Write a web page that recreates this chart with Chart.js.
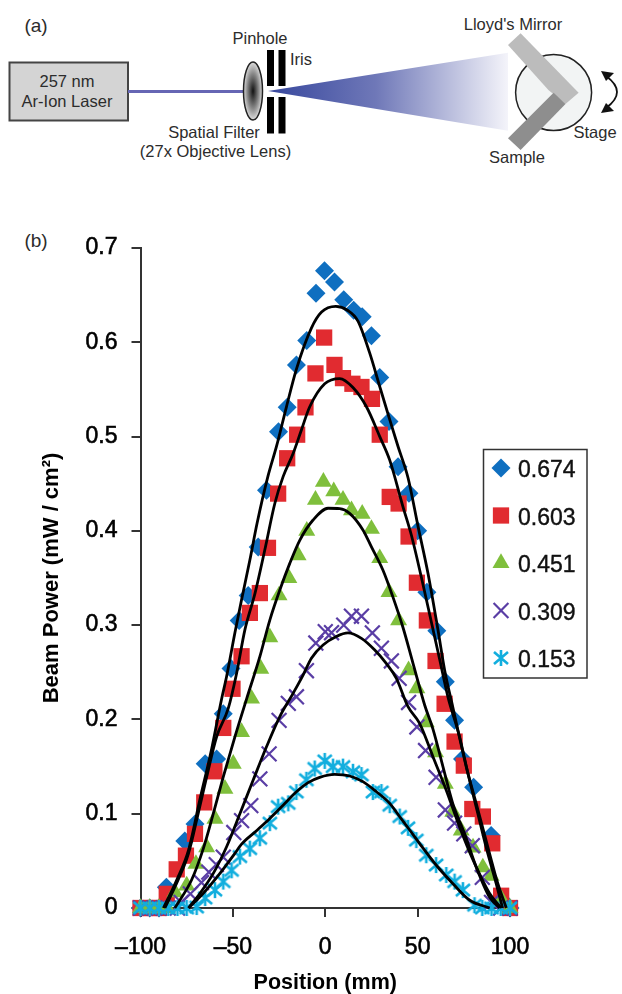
<!DOCTYPE html>
<html>
<head>
<meta charset="utf-8">
<style>
  html, body { margin: 0; background: #fff; }
  #page { position: relative; width: 622px; height: 994px; overflow: hidden; }
  #page svg, #page canvas { position: absolute; left: 0; top: 0; }
  svg text { font-family: "Liberation Sans", Arial, sans-serif; fill: #2c2c2c; text-anchor: middle; }
</style>
<script src="https://cdn.jsdelivr.net/npm/chart.js@4"></script>
</head>
<body>
<div id="page">
  <svg width="622" height="260">
    <defs>
      <radialGradient id="lensFill">
        <stop offset="0" stop-color="#111"/>
        <stop offset="0.6" stop-color="#888"/>
        <stop offset="1" stop-color="#ddd"/>
      </radialGradient>
      <linearGradient id="coneFill">
        <stop offset="0" stop-color="#37479d"/>
        <stop offset="0.45" stop-color="#6f78b8"/>
        <stop offset="1" stop-color="#f4f4fa"/>
      </linearGradient>
    </defs>
    <text x="36" y="32" font-size="19">(a)</text>
    <text x="36" y="247" font-size="19">(b)</text>

    <rect x="9.5" y="62.5" width="118.5" height="58" fill="#d4d4d4" stroke="#444" stroke-width="2"/>
    <text x="67" y="87" font-size="16.5">257 nm</text>
    <text x="67" y="107" font-size="16.5">Ar-Ion Laser</text>
    <line x1="128" y1="91.5" x2="245" y2="91.5" stroke="#6666b4" stroke-width="3"/>
    <ellipse cx="253" cy="91" rx="9.5" ry="29" fill="url(#lensFill)" stroke="#222" stroke-width="1.5"/>
    <rect x="267" y="50" width="7" height="36" fill="#000"/>
    <rect x="278.5" y="50" width="7" height="36" fill="#000"/>
    <rect x="267" y="97" width="7" height="36.5" fill="#000"/>
    <rect x="278.5" y="97" width="7" height="36.5" fill="#000"/>
    <polygon points="268,91 508,52.7 508,130.7" fill="url(#coneFill)"/>
    <circle cx="553.6" cy="92.5" r="38" fill="#f2f4f4" stroke="#222" stroke-width="1.5"/>
    <polygon points="508,45 520.6,33.3 578.6,92.7 565.5,104 548.4,90" fill="#bcbcbc"/>
    <polygon points="508,138.3 553.6,92.7 565.5,104 520.6,150" fill="#8e8e8e"/>
    <path d="M606 76 Q 628 92 606 108" fill="none" stroke="#111" stroke-width="1.8"/>
    <polygon points="601,71 614,73 606,81" fill="#111"/>
    <polygon points="601,113 614,111 606,103" fill="#111"/>
    <text x="260" y="44" font-size="16.5">Pinhole</text>
    <text x="301" y="65" font-size="16.5">Iris</text>
    <text x="214" y="138" font-size="16.5">Spatial Filter</text>
    <text x="215.5" y="157" font-size="16.5">(27x Objective Lens)</text>
    <text x="513" y="30" font-size="16.5">Lloyd's Mirror</text>
    <text x="595" y="138" font-size="16.5">Stage</text>
    <text x="517" y="163" font-size="16.5">Sample</text>
  </svg>
  <canvas id="beamChart" width="622" height="994"></canvas>
</div>

<script>
const seriesLabels = ["0.674", "0.603", "0.451", "0.309", "0.153"];
const xTicks = [-100, -50, 0, 50, 100];
const yTicks = [0, 0.1, 0.2, 0.3, 0.4, 0.5, 0.6, 0.7];

const blueX = [-100,-95,-90,-86,-76,-70.5,-65,-58.8,-55.2,-51,-46.6,-41.7,-36.3,-31.8,-25.3,-20.6,-15.6,-10,-5,-0.4,5,10,15.4,20,25,29.5,34.5,39.4,45.3,50,55,60.4,65,70,74.3,80.3,89.8,95,100];
const blueY = [0,0,0,0.022,0.071,0.089,0.153,0.158,0.206,0.254,0.305,0.3315,0.383,0.443,0.505,0.531,0.576,0.602,0.652,0.676,0.664,0.645,0.634,0.627,0.607,0.5626,0.516,0.468,0.44,0.4,0.335,0.294,0.24,0.199,0.158,0.128,0.077,0.01,0];
const redX = [-100,-95,-90,-85.8,-80.4,-75.4,-70.5,-65.5,-60,-55.2,-50.2,-45.3,-40.8,-35.4,-31,-25.5,-20.6,-15.2,-10.7,-5.3,-0.6,5,9.6,14.7,19.6,25.3,29.5,34.9,39.7,45.1,49.6,55,59.7,64.6,70,75,79.6,85.3,90.4,95.2,100];
const redY = [0,0,0,0.015,0.041,0.0555,0.0786,0.112,0.145,0.191,0.2325,0.267,0.313,0.334,0.382,0.4395,0.477,0.502,0.531,0.567,0.605,0.576,0.562,0.556,0.5526,0.54,0.502,0.436,0.429,0.394,0.345,0.305,0.262,0.2166,0.1765,0.151,0.105,0.097,0.0686,0.013,0];
const greenX = [-100,-95,-90,-85.5,-81.4,-75,-70,-64.2,-59.7,-54.3,-49.8,-45.3,-39.9,-34.9,-30,-25,-19.7,-14.7,-10,-5.3,-1,4.6,9.6,14.2,20,25,29.5,34.5,39.7,45.1,49.6,54.7,59.7,65,69,73.6,80,85.3,89.8,95.2,100];
const greenY = [0,0,0,0,0.0166,0.0237,0.0467,0.0644,0.0945,0.1263,0.153,0.1865,0.222,0.2537,0.287,0.3315,0.35,0.374,0.4,0.433,0.452,0.442,0.433,0.4217,0.418,0.402,0.371,0.335,0.305,0.252,0.233,0.197,0.165,0.1316,0.102,0.082,0.064,0.043,0.034,0.01,0];
const purpleX = [-100,-95,-90,-85,-80,-78,-73,-67,-63,-59,-55.2,-49.5,-45.3,-40.3,-35.4,-30.4,-25,-20,-15.6,-10.2,-5.1,0,3.4,10,14.2,19.6,25.5,30.4,35.8,40,45.1,49.6,54.3,60,65,70,75,79.6,85,90,95,100];
const purpleY = [0,0,0,0,0,0.006,0.015,0.027,0.038,0.046,0.054,0.08,0.0927,0.1086,0.137,0.1635,0.199,0.217,0.224,0.2517,0.281,0.293,0.292,0.3,0.3095,0.3095,0.2917,0.2755,0.262,0.2436,0.218,0.192,0.167,0.1386,0.104,0.09,0.0786,0.066,0.0325,0.006,0,0];
const cyanX = [-100,-95,-90,-85,-80,-75,-69.6,-65,-59.7,-55.2,-50.7,-46.2,-40.8,-35.4,-30,-25.5,-20,-15.6,-10.2,-5.7,-0.3,4.2,9.6,15,19.6,25.8,30.4,34.9,40.3,44.8,49.3,54.7,60,65.5,70,74.5,80.8,85,90,95,100];
const cyanY = [0,0,0,0,0,0,0.001,0.0106,0.019,0.028,0.04,0.0545,0.063,0.074,0.09,0.1075,0.111,0.123,0.136,0.148,0.156,0.15,0.15,0.1445,0.141,0.123,0.123,0.109,0.097,0.085,0.072,0.056,0.0456,0.035,0.028,0.019,0.003,0,0,0,0];

// fitted curves
const fitAX = [-87.6,-80.4,-74,-67.8,-61.5,-56.1,-53.4,-48.9,-45.3,-40.8,-36.9,-31,-26.4,-21,-15.6,-7.5,-2,5.7,12,17.7,24,29.5,34.9,39.4,44.8,50.2,55.6,61,64.6,69,76.3,81.7,88.9,93.4,98];
const fitAY = [0,0.0297,0.0615,0.1155,0.1686,0.2216,0.2455,0.292,0.327,0.369,0.408,0.458,0.4895,0.5316,0.5716,0.615,0.632,0.638,0.634,0.6225,0.589,0.553,0.518,0.4895,0.4563,0.405,0.355,0.295,0.2525,0.2135,0.15,0.111,0.058,0.026,0];
const fitBX = [-86.8,-79.6,-74,-68.8,-64.2,-58.8,-52.5,-48,-43.5,-38,-32.7,-27.3,-22.8,-17.4,-12.9,-8.4,-0.3,7.8,15,22.3,29.5,34.9,42,46.6,52,57.4,62,66.4,72.7,77.2,82.6,87,92.5,96];
const fitBY = [0,0.03,0.058,0.1,0.139,0.1816,0.2117,0.2488,0.295,0.334,0.38,0.429,0.4575,0.482,0.507,0.5316,0.556,0.5615,0.552,0.5316,0.5,0.475,0.426,0.3956,0.351,0.3036,0.263,0.224,0.1816,0.143,0.1,0.065,0.026,0];
const fitCX = [-81.4,-72.3,-66,-60.6,-55.2,-48.9,-42.6,-35.4,-30,-24.6,-19.2,-13.8,-6.6,1.5,7.8,13.2,20.4,25,31.2,36.6,42,47.5,53.8,58.3,63.7,69,75.4,81.7,88.9,94.3];
const fitCY = [0,0.03,0.063,0.1,0.139,0.1816,0.2216,0.2666,0.3054,0.3372,0.3655,0.39,0.4115,0.424,0.4236,0.4186,0.401,0.383,0.3585,0.33,0.298,0.2595,0.2153,0.1898,0.15,0.111,0.079,0.0435,0.0115,0];
const fitDX = [-74,-67.8,-60.6,-53.4,-46.2,-39,-31.8,-24.6,-17.4,-12,-7.5,-1.2,6,12.3,19.6,26.8,33,38.5,44.8,51,58.3,65.5,72.7,80,88.9,95.2];
const fitDY = [0,0.0156,0.0367,0.065,0.1,0.1357,0.171,0.203,0.2277,0.247,0.265,0.279,0.288,0.2917,0.286,0.2736,0.2595,0.2436,0.2135,0.196,0.1605,0.125,0.086,0.051,0.0156,0];
const fitEX = [-74,-66,-57,-48.9,-45.3,-37.2,-30,-22.8,-15.6,-9.3,-3,5.1,13.2,20.4,27.7,34.9,40.3,45.7,51,60,69,78,89];
const fitEY = [0,0.0156,0.0367,0.058,0.0677,0.082,0.095,0.109,0.1233,0.133,0.1386,0.1417,0.14,0.134,0.1233,0.111,0.0968,0.0827,0.0686,0.0456,0.026,0.0085,0];

const COLORS = { blue: "#0f6fc0", red: "#e12b30", green: "#7fbf3c", purple: "#5a3ea5", cyan: "#12aede" };

const zip = (xs, ys) => xs.map((x, i) => ({ x, y: ys[i] }));

// six-armed star like the spreadsheet marker, chart.js "star" has eight
function starMarker(color) {
  const c = document.createElement("canvas");
  c.width = c.height = 18;
  const ctx = c.getContext("2d");
  ctx.strokeStyle = color;
  ctx.lineWidth = 2.6;
  ctx.beginPath();
  ctx.moveTo(9, 1); ctx.lineTo(9, 17);
  ctx.moveTo(2, 3); ctx.lineTo(16, 15);
  ctx.moveTo(16, 3); ctx.lineTo(2, 15);
  ctx.stroke();
  return c;
}

function pointSet(i, xs, ys, color, style, radius, order) {
  return {
    label: seriesLabels[i],
    data: zip(xs, ys),
    showLine: false,
    pointStyle: style,
    pointRadius: radius,
    pointBackgroundColor: color,
    pointBorderColor: color,
    pointBorderWidth: style === "crossRot" ? 2.2 : 0,
    clip: false,
    order,
  };
}

function fitSet(xs, ys) {
  return {
    label: "fit",
    data: zip(xs, ys),
    showLine: true,
    borderColor: "#000",
    borderWidth: 2.8,
    cubicInterpolationMode: "monotone",
    pointRadius: 0,
    clip: false,
    order: 0,
  };
}

// box legend inside the plot, the built-in one cannot sit there
const boxLegend = {
  id: "boxLegend",
  afterDraw(chart) {
    const ctx = chart.ctx;
    ctx.save();
    ctx.strokeStyle = "#333";
    ctx.lineWidth = 1.5;
    ctx.strokeRect(483.5, 449.5, 103.5, 228.5);
    ctx.font = '23px "Liberation Sans", Arial, sans-serif';
    ctx.textBaseline = "middle";
    seriesLabels.forEach((label, i) => {
      const y = 468 + i * 47.5;
      const ds = chart.data.datasets[i];
      ctx.fillStyle = ds.pointBackgroundColor;
      ctx.strokeStyle = ds.pointBorderColor;
      ctx.lineWidth = ds.pointBorderWidth;
      Chart.helpers.drawPoint(ctx, { pointStyle: ds.pointStyle, radius: ds.pointRadius, borderWidth: ds.pointBorderWidth, rotation: 0 }, 501, y);
      ctx.fillStyle = "#111";
      ctx.strokeStyle = "#111";
      ctx.lineWidth = 0.4;
      ctx.fillText(label, 518, y + 3);
      ctx.strokeText(label, 518, y + 3);
    });
    ctx.restore();
  },
};

new Chart(document.getElementById("beamChart"), {
  type: "scatter",
  data: {
    datasets: [
      pointSet(0, blueX, blueY, COLORS.blue, "rectRot", 9.5, 5),
      pointSet(1, redX, redY, COLORS.red, "rect", 11.5, 4),
      pointSet(2, greenX, greenY, COLORS.green, "triangle", 9.8, 3),
      pointSet(3, purpleX, purpleY, COLORS.purple, "crossRot", 10.5, 2),
      pointSet(4, cyanX, cyanY, COLORS.cyan, starMarker(COLORS.cyan), 9, 1),
      fitSet(fitAX, fitAY),
      fitSet(fitBX, fitBY),
      fitSet(fitCX, fitCY),
      fitSet(fitDX, fitDY),
      fitSet(fitEX, fitEY),
    ],
  },
  options: {
    responsive: false,
    animation: false,
    layout: { padding: { top: 248, right: 112, left: 0, bottom: 0 } },
    plugins: { legend: { display: false }, tooltip: { enabled: false } },
    scales: {
      x: {
        type: "linear",
        min: -100,
        max: 100,
        afterBuildTicks: axis => { axis.ticks = xTicks.map(value => ({ value })); },
        afterFit: axis => { axis.height = 86; },
        grid: { drawOnChartArea: false, color: "#333", tickLength: 9, lineWidth: 2 },
        border: { color: "#333", width: 2 },
        ticks: {
          color: "#000",
          padding: 17,
          maxRotation: 0,
          textStrokeColor: "#000",
          textStrokeWidth: 0.6,
          font: { family: "Liberation Sans", size: 23 },
          callback: v => String(v).replace("-", "\u2013"),
        },
        title: {
          display: true,
          text: "Position (mm)",
          color: "#000",
          font: { family: "Liberation Sans", size: 21.5, weight: "bold", lineHeight: 1 },
          padding: { top: 0, bottom: 0 },
        },
      },
      y: {
        type: "linear",
        min: 0,
        max: 0.7,
        afterBuildTicks: axis => { axis.ticks = yTicks.map(value => ({ value })); },
        afterFit: axis => { axis.width = 140.5; },
        grid: { drawOnChartArea: false, color: "#333", tickLength: 9, lineWidth: 2 },
        border: { color: "#333", width: 2 },
        ticks: {
          color: "#000",
          padding: 14,
          textStrokeColor: "#000",
          textStrokeWidth: 0.6,
          font: { family: "Liberation Sans", size: 23 },
          callback: v => String(v),
        },
        title: {
          display: true,
          text: "Beam Power (mW / cm\u00b2)",
          color: "#000",
          font: { family: "Liberation Sans", size: 22, weight: "bold", lineHeight: 1 },
          padding: { top: 41, bottom: 0 },
        },
      },
    },
  },
  plugins: [boxLegend],
});
</script>
</body>
</html>
